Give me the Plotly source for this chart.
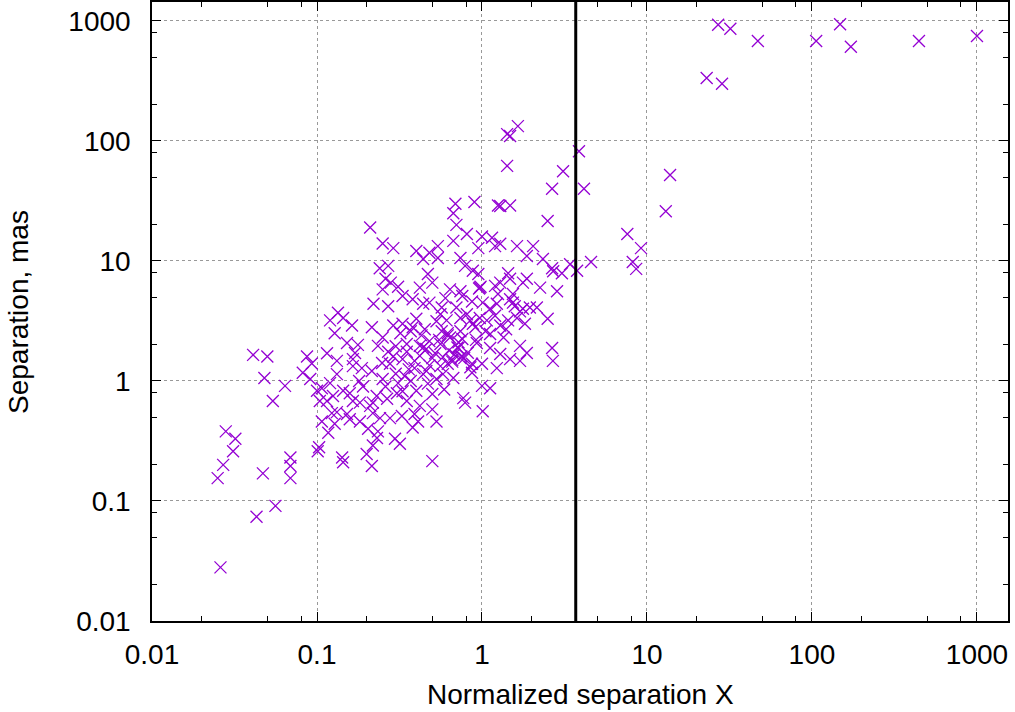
import plotly.graph_objects as go

# normalized separation X (x) and separation in mas (y)
sep_x = [
    0.041, 0.050, 0.048, 0.028, 0.032, 0.031, 0.027, 0.025, 0.047, 0.043, 0.026, 0.056,
    0.134, 0.12, 0.128,
    0.087, 0.093, 0.082, 0.115, 0.132, 0.064, 0.054, 0.132, 0.12, 0.107, 0.104, 0.123,
    0.132, 0.107, 0.117, 0.101, 0.103, 0.069, 0.069, 0.069, 0.091, 0.1, 0.115, 0.125, 0.128,
    0.21, 0.25, 0.29, 0.24, 0.27, 0.26, 0.28, 0.25, 0.31, 0.33, 0.22, 0.27, 0.144, 0.163,
    0.215, 0.29, 0.33,
    0.25, 0.32, 0.152, 0.177, 0.234, 0.30, 0.35, 0.165, 0.187, 0.215, 0.248, 0.277, 0.33,
    0.25, 0.31, 0.144, 0.165, 0.182, 0.218, 0.266, 0.305, 0.35, 0.152, 0.158, 0.182, 0.218,
    0.241, 0.277, 0.327, 0.204, 0.234, 0.231, 0.297, 0.318, 0.218, 0.20, 0.142, 0.215,
    0.144, 0.165, 0.158, 0.17,
    0.69, 0.67, 0.90, 1.25,
    0.70, 0.81, 0.67, 1.0, 1.15, 1.29, 1.63, 2.04, 2.5, 0.40, 0.54, 0.48, 0.44, 0.54, 0.74,
    0.79, 0.95, 0.97, 0.96, 0.98, 1.87, 2.34, 2.66, 0.47, 0.50, 0.42, 0.64, 0.74, 1.29,
    1.48, 1.44, 1.77, 1.87, 2.25, 2.85, 0.60, 0.38, 0.44, 0.48, 0.57, 0.70, 0.87, 1.01,
    1.12, 1.23, 1.2, 1.07, 0.85, 0.74, 0.61, 0.53, 0.40, 0.38, 0.45, 1.48, 1.58, 1.77,
    2.15, 2.5, 1.63, 1.82, 1.44, 0.57, 0.74, 0.91, 1.12, 0.64, 0.48, 0.42, 0.56, 0.72,
    0.93, 1.12, 1.70, 1.29, 1.48, 1.87, 1.70, 2.66, 2.69, 0.39, 0.50, 0.74, 0.87, 1.0,
    1.23, 0.44, 0.58, 0.67, 0.87, 1.0, 1.12, 0.40, 0.50, 0.77, 0.79, 0.42, 0.50, 1.01,
    0.39,
    0.95, 1.2, 0.88, 0.76, 1.2, 0.97, 0.39, 0.46, 0.56, 0.62, 0.37, 0.53, 0.41, 0.53,
    0.38, 0.50,
    2.7, 1.25, 1.54, 1.29, 0.88, 0.76, 0.81, 1.54, 1.95, 1.70,
    1.65, 1.42, 1.48, 1.42, 2.66, 1.29, 1.48,
    3.87, 3.1, 4.15, 3.42, 3.05, 3.77, 4.58,
    27, 32, 47, 106, 148, 172, 445, 1000, 23, 28.5, 13.8, 13, 7.6, 9.2, 8.2, 8.6,
    # extra points in the crowded core
    0.35, 0.42, 0.46, 0.52, 0.58, 0.63, 0.68, 0.75, 0.82, 0.30, 0.36, 0.44, 0.55, 0.62,
    0.72, 0.26, 0.33, 0.47, 0.59, 0.66, 0.19, 0.23, 0.29, 0.37, 0.43, 1.05, 1.35, 0.85,
    0.66, 0.71, 0.78, 0.62, 0.48, 0.34, 0.27, 0.21, 0.18, 0.56, 0.92, 1.4,
]
sep_mas = [
    1.65, 1.6, 1.06, 0.38, 0.33, 0.26, 0.20, 0.155, 0.17, 0.074, 0.028, 0.091,
    3.7, 3.2, 2.5,
    1.6, 1.4, 1.17, 1.7, 1.47, 0.91, 0.68, 1.14, 0.96, 0.87, 0.68, 0.54,
    0.55, 0.46, 0.37, 0.26, 0.28, 0.23, 0.196, 0.155, 1.04, 0.83, 0.68, 0.75, 0.44,
    19, 14, 12.8, 8.7, 9.1, 7.1, 6.6, 5.8, 6.1, 5.1, 4.4, 4.2, 3.35, 2.9,
    2.8, 2.9, 3.0,
    2.3, 2.5, 2.07, 2.0, 1.96, 1.95, 2.03, 1.52, 1.28, 1.21, 1.41, 1.39, 1.52,
    1.04, 0.96, 0.83, 0.68, 0.66, 0.66, 0.71, 0.79, 0.68, 0.53, 0.48, 0.46, 0.54,
    0.49, 0.49, 0.51, 0.40, 0.38, 0.335, 0.33, 0.30, 0.29, 0.246, 0.23, 0.196,
    0.21, 1.33, 0.79, 1.71,
    30, 25, 31, 29,
    20, 16.8, 14.7, 16, 15.6, 13.9, 13.3, 13.3, 21.5, 12.1, 13.3, 11.7, 10.4, 10.6, 10.6,
    9.1, 7.8, 6.0, 5.9, 6.1, 11, 10.4, 8.7, 7.8, 6.6, 6.0, 5.8, 5.6, 6.6,
    7.1, 7.9, 6.6, 7.1, 6.0, 5.6, 4.9, 4.8, 4.4, 4.5, 4.1, 4.1, 4.6, 4.5,
    4.0, 4.4, 3.5, 3.2, 3.2, 3.35, 3.2, 3.15, 3.3, 2.8, 2.7, 4.8, 4.2, 4.0,
    4.1, 3.3, 3.35, 3.0, 3.2, 2.6, 2.6, 2.8, 2.46, 2.3, 2.15, 1.96, 2.03, 1.88,
    2.07, 1.88, 1.96, 1.68, 1.52, 1.71, 1.47, 1.88, 1.47, 1.47, 1.55, 1.55, 1.39, 1.39,
    1.28, 1.14, 1.14, 1.06, 1.17, 0.91, 0.87, 0.83, 0.78, 0.72, 0.66, 0.62, 0.58, 0.56,
    0.53,
    12.8, 13.3, 8.3, 5.1, 6.2, 3.35, 1.28, 1.21, 1.33, 1.39, 1.0, 1.04, 0.46, 0.46,
    0.41, 0.215,
    8.2, 5.3, 5.3, 2.9, 3.0, 2.24, 3.6, 4.5, 4.1, 3.8,
    133, 114, 110, 62, 40, 28.7, 29,
    82, 56, 40, 9.4, 7.9, 8.3, 9.8,
    930, 860, 680, 680, 940, 610, 680, 750, 335, 300, 52, 26, 16.8, 12.8, 9.8, 8.6,
    1.75, 1.62, 1.85, 1.7, 1.58, 1.8, 1.66, 1.6, 1.72, 1.15, 1.25, 1.9, 2.2, 2.4,
    2.1, 0.9, 0.82, 0.95, 0.85, 1.5, 0.9, 0.75, 1.6, 2.6, 2.4, 2.6, 2.3, 1.3,
    1.45, 1.9, 1.55, 2.5, 1.35, 1.1, 1.75, 0.62, 1.0, 3.6, 2.2, 2.7,
]

x_cut = 3.7  # vertical line position

major_vals = [0.01, 0.1, 1, 10, 100, 1000]
major_text = ["0.01", "0.1", "1", "10", "100", "1000"]
minor_vals = [m * d for d in [0.001, 0.01, 0.1, 1, 10, 100, 1000] for m in (2, 5, 8)]

font = dict(family="Liberation Sans, Arial", size=28, color="black")

fig = go.Figure()
fig.add_trace(go.Scatter(
    x=sep_x, y=sep_mas, mode="markers",
    marker=dict(symbol="x-thin-open", size=12, color="#9400d3",
                line=dict(width=1.3, color="#9400d3")),
    showlegend=False,
))

fig.add_shape(type="line", xref="x", yref="paper", x0=x_cut, x1=x_cut, y0=0, y1=1,
              line=dict(color="black", width=3))

axis_common = dict(
    type="log",
    automargin=False,
    tickmode="array",
    tickvals=major_vals,
    ticktext=major_text,
    ticks="inside",
    ticklen=9,
    tickwidth=1,
    tickcolor="black",
    showline=True,
    linecolor="black",
    linewidth=1.5,
    mirror="ticks",
    showgrid=True,
    gridcolor="#999999",
    griddash="dot",
    gridwidth=1,
    zeroline=False,
    tickfont=font,
    minor=dict(tickmode="array", tickvals=minor_vals, ticks="inside", ticklen=5,
               tickcolor="black", showgrid=False),
)

fig.update_xaxes(axis_common, range=[-2, 3.188], ticklabelstandoff=8)
fig.update_yaxes(axis_common, range=[-2, 3.158], ticklabelstandoff=14)

fig.add_annotation(text="Normalized separation X", xref="paper", yref="paper",
                   x=0.5, y=-0.118, xanchor="center", yanchor="middle",
                   showarrow=False, font=font)
fig.add_annotation(text="Separation, mas", xref="paper", yref="paper",
                   x=-0.156, y=0.5, xanchor="center", yanchor="middle",
                   textangle=-90, showarrow=False, font=font)

fig.update_layout(
    width=1015, height=712,
    margin=dict(l=152, r=7, t=2, b=91),
    plot_bgcolor="white",
    paper_bgcolor="white",
)

# the page body has a default 8px margin; drop it so the figure sits at the corner
fig.write_html("out.html", config={"displayModeBar": False},
               post_script="document.body.style.margin='0';")
